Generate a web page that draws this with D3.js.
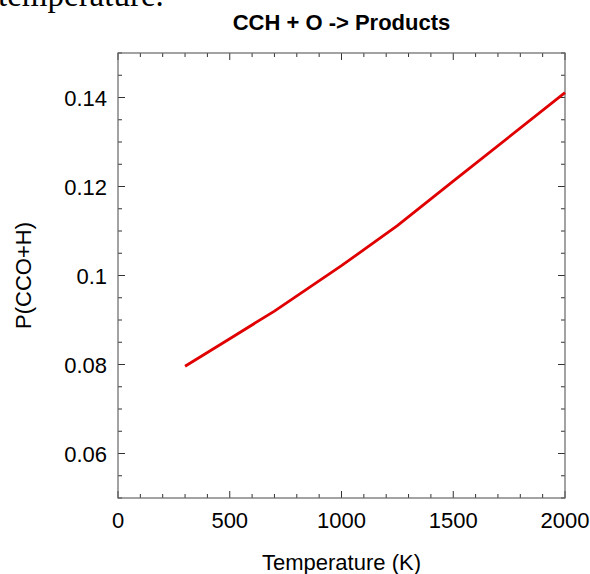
<!DOCTYPE html>
<html>
<head>
<meta charset="utf-8">
<script src="https://cdn.jsdelivr.net/npm/d3@7"></script>
<style>
  body { margin: 0; background: #fff; }
  svg { display: block; }
</style>
</head>
<body>
<svg id="chart" width="590" height="574"></svg>
<script>
// data
let temperatures = [300, 500, 700, 1000, 1250, 1500, 2000]
let probabilities = [0.0796, 0.0858, 0.0920, 0.1022, 0.1112, 0.1212, 0.1411]
let xTicks = [0, 500, 1000, 1500, 2000]
let yTicks = [0.06, 0.08, 0.1, 0.12, 0.14]

let svg = d3.select("#chart")
let width = 590, height = 574
let margin = { top: 53, right: 25, bottom: 76, left: 118 }

let x = d3.scaleLinear()
    .domain([0, 2000])
    .range([margin.left, width - margin.right])

let y = d3.scaleLinear()
    .domain([0.05, 0.15])
    .range([height - margin.bottom, margin.top])

let font = "'Liberation Sans', Arial, Helvetica, sans-serif"

// cropped text from the page above
svg.append("text")
    .attr("x", -2)
    .attr("y", 6)
    .style("font-family", "'Liberation Serif', 'Times New Roman', serif")
    .style("font-size", "33px")
    .text("temperature.")

// ticks, inward on all four sides
let minorX = d3.range(0, 2001, 100).filter(d => d % 500 != 0)
let minorY = d3.range(0.05, 0.1501, 0.005).filter(d => Math.abs(d * 50 - Math.round(d * 50)) > 1e-6)

let tickG = svg.append("g").style("stroke", "#333").style("stroke-width", 1)

function xTick(v, len) {
  tickG.append("line").attr("x1", x(v)).attr("x2", x(v))
    .attr("y1", y(0.05)).attr("y2", y(0.05) - len)
  tickG.append("line").attr("x1", x(v)).attr("x2", x(v))
    .attr("y1", y(0.15)).attr("y2", y(0.15) + len)
}
function yTick(v, len) {
  tickG.append("line").attr("x1", x(0)).attr("x2", x(0) + len)
    .attr("y1", y(v)).attr("y2", y(v))
  tickG.append("line").attr("x1", x(2000)).attr("x2", x(2000) - len)
    .attr("y1", y(v)).attr("y2", y(v))
}
xTicks.forEach(d => xTick(d, 7))
minorX.forEach(d => xTick(d, 4))
yTicks.forEach(d => yTick(d, 7))
minorY.forEach(d => yTick(d, 4))

// frame
svg.append("rect")
    .attr("x", x(0))
    .attr("y", y(0.15))
    .attr("width", x(2000) - x(0))
    .attr("height", y(0.05) - y(0.15))
    .style("fill", "none")
    .style("stroke", "#666")
    .style("stroke-width", 1.2)

// tick labels
svg.append("g").selectAll("text")
    .data(xTicks)
    .join("text")
    .attr("x", d => x(d))
    .attr("y", y(0.05) + 30)
    .attr("text-anchor", "middle")
    .style("font-family", font)
    .style("font-size", "22px")
    .text(d => d)

svg.append("g").selectAll("text")
    .data(yTicks)
    .join("text")
    .attr("x", x(0) - 11)
    .attr("y", d => y(d) + 8)
    .attr("text-anchor", "end")
    .style("font-family", font)
    .style("font-size", "22px")
    .text(d => d3.format(".2~f")(d))

// the curve
let line = d3.line()
    .x((d, i) => x(temperatures[i]))
    .y(d => y(d))

svg.append("path")
    .attr("d", line(probabilities))
    .style("fill", "none")
    .style("stroke", "#e00000")
    .style("stroke-width", 2.8)

// titles
svg.append("text")
    .attr("x", (x(0) + x(2000)) / 2)
    .attr("y", 30)
    .attr("text-anchor", "middle")
    .style("font-family", font)
    .style("font-size", "22px")
    .style("font-weight", "bold")
    .text("CCH + O -> Products")

svg.append("text")
    .attr("x", (x(0) + x(2000)) / 2)
    .attr("y", 570)
    .attr("text-anchor", "middle")
    .style("font-family", font)
    .style("font-size", "22px")
    .text("Temperature (K)")

svg.append("text")
    .attr("transform", `translate(31,${(y(0.05) + y(0.15)) / 2}) rotate(-90)`)
    .attr("text-anchor", "middle")
    .style("font-family", font)
    .style("font-size", "22px")
    .text("P(CCO+H)")
</script>
</body>
</html>
